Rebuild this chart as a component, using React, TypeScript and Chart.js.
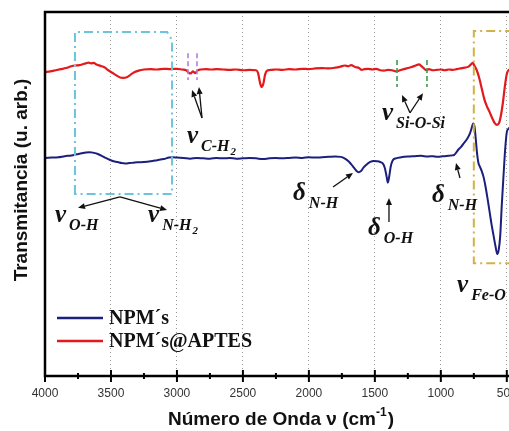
import React, { useEffect, useRef } from "react";
import { Chart, registerables } from "chart.js";

Chart.register(...registerables);

// ---------- DATA ----------
const seriesLabels = ["NPM´s", "NPM´s@APTES"];
const seriesColors = ["#1c1f7c", "#e3191c"];

// NPM´s (blue) — wavenumber (cm-1) and transmittance (arb.)
const npmWn = [
  4000, 3950, 3900, 3850, 3800, 3760, 3720, 3690, 3660, 3630, 3600, 3570, 3540, 3510, 3480, 3450,
  3420, 3390, 3360, 3330, 3300, 3250, 3200, 3150, 3100, 3060, 3030, 3000, 2950, 2900, 2850, 2800,
  2750, 2700, 2650, 2600, 2550, 2500, 2450, 2400, 2350, 2300, 2250, 2200, 2150, 2100, 2050, 2000,
  1950, 1900, 1850, 1800, 1760, 1730, 1700, 1680, 1660, 1640, 1625, 1605, 1585, 1560, 1535, 1510,
  1485, 1460, 1440, 1425, 1412, 1402, 1392, 1380, 1365, 1340, 1300, 1250, 1200, 1150, 1100, 1060,
  1030, 1000, 970, 940, 920, 900, 885, 865, 845, 825, 800, 780, 765, 755, 745, 735, 725, 715, 705,
  690, 675, 660, 645, 630, 615, 600, 585, 572, 562, 550, 538, 525, 512, 500, 490, 470, 440, 400,
];
const npmT = [
  59.9, 60.0, 60.1, 60.4, 60.6, 60.9, 61.2, 61.4, 61.5, 61.3, 61.0, 60.5, 59.9, 59.4, 59.0, 58.8,
  58.5, 58.4, 58.5, 58.6, 58.7, 58.8, 59.0, 59.3, 59.6, 60.0, 60.1, 60.0, 59.9, 59.7, 59.9, 59.8,
  59.7, 59.9, 59.8, 59.9, 59.7, 59.8, 59.9, 59.8, 59.6, 59.8, 59.9, 59.8, 59.9, 60.0, 59.9, 60.1,
  60.0, 60.1, 60.2, 60.3, 60.2, 59.8, 59.0, 58.2, 57.3, 56.4, 56.0, 56.3, 57.3, 58.2, 58.8, 59.1,
  59.0, 58.8, 58.4, 57.2, 55.0, 53.1, 54.6, 57.5, 59.2, 59.8, 60.1, 60.3, 60.4, 60.5, 60.3, 60.4,
  60.2, 60.3, 60.4, 60.5, 60.6, 60.7, 61.3, 62.3, 63.0, 64.0, 65.2, 66.6, 68.3, 69.4, 68.6, 65.0,
  61.0, 58.5, 57.6, 56.3, 54.5, 51.8, 48.5, 45.0, 41.5, 38.5, 35.5, 33.5, 34.5, 38.5, 47.0, 55.0,
  62.5, 67.0, 67.8, 68.5, 69.0, 69.2,
];

// NPM´s@APTES (red)
const aptesWn = [
  4000, 3960, 3920, 3880, 3840, 3800, 3770, 3740, 3710, 3690, 3670, 3650, 3630, 3610, 3580, 3550,
  3520, 3490, 3460, 3430, 3410, 3380, 3350, 3320, 3290, 3250, 3200, 3150, 3100, 3050, 3000, 2960,
  2930, 2910, 2895, 2880, 2860, 2845, 2820, 2780, 2740, 2700, 2650, 2600, 2550, 2500, 2450, 2400,
  2385, 2370, 2358, 2345, 2332, 2315, 2280, 2250, 2200, 2150, 2100, 2050, 2000, 1950, 1900, 1850,
  1800, 1760, 1730, 1700, 1680, 1650, 1620, 1600, 1580, 1550, 1520, 1490, 1460, 1430, 1400, 1370,
  1340, 1310, 1280, 1250, 1220, 1190, 1165, 1150, 1130, 1110, 1090, 1060, 1030, 1000, 970, 940, 910,
  880, 850, 820, 790, 770, 758, 745, 730, 710, 690, 670, 650, 630, 610, 590, 575, 560, 545, 530, 515,
  500, 485, 460, 430, 400,
];
const aptesT = [
  83.5, 83.7, 84.0, 84.3, 84.6, 85.1, 85.3, 85.4, 85.7, 85.9, 86.1, 85.9, 86.0, 85.6, 85.2, 84.8,
  84.0, 83.3, 82.6, 82.0, 81.9, 82.1, 82.8, 83.5, 83.9, 84.2, 84.3, 84.2, 84.4, 84.3, 84.4, 84.2,
  84.0, 83.3, 83.1, 83.7, 83.2, 83.9, 84.2, 84.3, 84.2, 84.3, 84.2, 84.1, 84.2, 84.0, 84.1, 84.0,
  83.2, 80.5, 79.4, 80.3, 82.8, 83.9, 84.1, 84.2, 84.1, 84.3, 84.2, 84.4, 84.3, 84.5, 84.6, 84.5,
  84.7, 85.0, 85.3, 85.1, 85.4, 84.9, 84.6, 84.1, 84.3, 84.4, 84.2, 84.4, 84.0, 83.9, 84.1, 84.0,
  83.7, 84.0, 84.3, 84.6, 84.9, 85.3, 85.6, 85.2, 84.6, 84.0, 84.3, 84.0, 84.1, 84.2, 84.0, 84.2, 84.1,
  84.3, 84.5, 84.7, 85.0, 85.7, 86.0, 85.2, 84.2, 82.0, 79.0, 76.0, 74.0, 72.5, 70.8, 69.4, 69.0,
  69.4, 71.5, 75.0, 79.5, 83.0, 84.1, 84.3, 84.2, 84.3,
];

const xTickValues = [4000, 3500, 3000, 2500, 2000, 1500, 1000, 500];
const xMin = 400;
const xMax = 4000;
const xMinorStep = 250;
const yMin = 0;
const yMax = 100;

// ---------- ANNOTATIONS (data coordinates) ----------
// dash-dot boxes: [wnLeft, wnRight, vTop, vBottom, color]
const boxes: [number, number, number, number, string][] = [
  [3773, 3037, 94.5, 50.0, "#6cc3dc"],
  [750, 300, 94.8, 31.0, "#d2b243"],
];
// dashed marker lines: [wn, vTop, vBottom, color]
const markers: [number, number, number, string][] = [
  [2916, 88.7, 81.3, "#b57ddb"],
  [2848, 88.7, 81.3, "#b57ddb"],
  [1332, 86.8, 79.4, "#3f9c4c"],
  [1105, 86.8, 79.4, "#3f9c4c"],
];
// arrows: [wnFrom, vFrom, wnTo, vTo]
const arrows: [number, number, number, number][] = [
  [2810, 70.9, 2886, 78.6],
  [2810, 70.9, 2833, 79.4],
  [1234, 72.3, 1294, 77.2],
  [1234, 72.3, 1135, 77.7],
  [3432, 49.2, 3750, 46.2],
  [3432, 49.2, 3075, 45.6],
  [1817, 51.9, 1666, 55.8],
  [1393, 42.3, 1393, 48.9],
  [855, 54.4, 885, 58.5],
];
// labels: [wn, v, greek, subscript, trailing small subscript]
const labels: [number, number, string, string, string][] = [
  [2924, 64.0, "ν", "C-H", "2"],
  [1446, 70.3, "ν", "Si-O-Si", ""],
  [2120, 48.4, "δ", "N-H", ""],
  [1552, 38.7, "δ", "O-H", ""],
  [1067, 47.8, "δ", "N-H", ""],
  [3924, 42.3, "ν", "O-H", ""],
  [3219, 42.3, "ν", "N-H", "2"],
  [877, 23.1, "ν", "Fe-O", ""],
];

const xTitle = "Número de Onda ν (cm";
const xTitleSup = "-1";
const yTitle = "Transmitancia (u. arb.)";

const overlayPlugin = {
  id: "overlay",
  afterDatasetsDraw(chart: any) {
    const { ctx, scales } = chart;
    const X = (v: number) => scales.x.getPixelForValue(v);
    const Y = (v: number) => scales.y.getPixelForValue(v);
    ctx.save();

    // boxes
    boxes.forEach(([w1, w2, t, b, col], i) => {
      const x1 = X(w1), x2 = X(w2), y1 = Y(t), y2 = Y(b);
      ctx.strokeStyle = col;
      ctx.lineWidth = 2;
      ctx.setLineDash([9, 4, 2, 4]);
      ctx.beginPath();
      if (i === 0) {
        ctx.moveTo(x1, y2);
        ctx.lineTo(x1, y1);
        ctx.lineTo(x2 - 5, y1);
        ctx.lineTo(x2, y1 + 8);
        ctx.lineTo(x2, y2);
        ctx.closePath();
      } else {
        ctx.moveTo(x2, y1);
        ctx.lineTo(x1, y1);
        ctx.lineTo(x1, y2);
        ctx.lineTo(x2, y2);
      }
      ctx.stroke();
    });

    // markers
    markers.forEach(([w, t, b, col]) => {
      ctx.strokeStyle = col;
      ctx.lineWidth = 1.6;
      ctx.setLineDash([5, 3]);
      ctx.beginPath();
      ctx.moveTo(X(w), Y(t));
      ctx.lineTo(X(w), Y(b));
      ctx.stroke();
    });

    // arrows
    ctx.setLineDash([]);
    ctx.strokeStyle = "#111";
    ctx.fillStyle = "#111";
    arrows.forEach(([w1, v1, w2, v2]) => {
      const x1 = X(w1), y1 = Y(v1), x2 = X(w2), y2 = Y(v2);
      const ang = Math.atan2(y2 - y1, x2 - x1);
      const hl = 7, hw = 3;
      const bx = x2 - hl * Math.cos(ang), by = y2 - hl * Math.sin(ang);
      ctx.lineWidth = 1.3;
      ctx.beginPath();
      ctx.moveTo(x1, y1);
      ctx.lineTo(bx, by);
      ctx.stroke();
      ctx.beginPath();
      ctx.moveTo(x2, y2);
      ctx.lineTo(bx + hw * Math.sin(ang), by - hw * Math.cos(ang));
      ctx.lineTo(bx - hw * Math.sin(ang), by + hw * Math.cos(ang));
      ctx.closePath();
      ctx.fill();
    });

    // labels
    ctx.textBaseline = "alphabetic";
    ctx.textAlign = "left";
    labels.forEach(([w, v, g, s, s2]) => {
      const x = X(w), y = Y(v);
      ctx.font = 'italic bold 25px "Liberation Serif"';
      ctx.fillText(g, x, y);
      const gw = ctx.measureText(g).width;
      ctx.font = 'italic bold 16px "Liberation Serif"';
      const sx = x + gw + 3, sy = y + 8;
      ctx.fillText(s, sx, sy);
      if (s2) {
        const sw = ctx.measureText(s).width;
        ctx.font = 'italic bold 11px "Liberation Serif"';
        ctx.fillText(s2, sx + sw + 1, sy + 4);
      }
    });

    ctx.restore();
  },
  afterDraw(chart: any) {
    const { ctx, chartArea: a, scales } = chart;
    const X = (v: number) => scales.x.getPixelForValue(v);
    ctx.save();
    ctx.setLineDash([]);
    // frame
    ctx.strokeStyle = "#000";
    ctx.lineWidth = 2.5;
    ctx.strokeRect(a.left, a.top, a.right - a.left, a.bottom - a.top);
    // ticks (major + minor)
    ctx.lineWidth = 2;
    for (let v = xMax; v >= xMin; v -= xMinorStep) {
      const major = xTickValues.includes(v);
      const px = X(v);
      const h = major ? 6 : 3;
      ctx.beginPath();
      ctx.moveTo(px, a.bottom - h);
      ctx.lineTo(px, a.bottom + h);
      ctx.stroke();
    }
    // legend
    chart.data.datasets.forEach((ds: any, i: number) => {
      const ly = 318 + i * 23;
      ctx.strokeStyle = ds.borderColor;
      ctx.lineWidth = 2.5;
      ctx.beginPath();
      ctx.moveTo(57, ly);
      ctx.lineTo(103, ly);
      ctx.stroke();
      ctx.fillStyle = "#111";
      ctx.font = 'bold 20px "Liberation Serif"';
      ctx.textBaseline = "middle";
      ctx.textAlign = "left";
      ctx.fillText(ds.label, 109, ly + 1);
    });
    // x title
    ctx.fillStyle = "#111";
    ctx.textBaseline = "middle";
    ctx.font = 'bold 19px "Liberation Sans"';
    const w1 = ctx.measureText(xTitle).width;
    const w3 = ctx.measureText(")").width;
    ctx.font = 'bold 12px "Liberation Sans"';
    const w2 = ctx.measureText(xTitleSup).width;
    const total = w1 + w2 + w3 + 1;
    let tx = 281 - total / 2;
    ctx.font = 'bold 19px "Liberation Sans"';
    ctx.fillText(xTitle, tx, 420);
    tx += w1;
    ctx.font = 'bold 12px "Liberation Sans"';
    ctx.fillText(xTitleSup, tx, 413);
    tx += w2 + 1;
    ctx.font = 'bold 19px "Liberation Sans"';
    ctx.fillText(")", tx, 420);
    // y title
    ctx.translate(22, 180);
    ctx.rotate(-Math.PI / 2);
    ctx.textAlign = "center";
    ctx.font = 'bold 19px "Liberation Sans"';
    ctx.fillText(yTitle, 0, 0);
    ctx.restore();
  },
};

export default function App() {
  const ref = useRef<HTMLCanvasElement | null>(null);
  useEffect(() => {
    if (!ref.current) return;
    const chart = new Chart(ref.current, {
      type: "line",
      data: {
        datasets: [
          {
            label: seriesLabels[0],
            data: npmWn.map((w, i) => ({ x: w, y: npmT[i] })),
            borderColor: seriesColors[0],
            borderWidth: 2,
            pointRadius: 0,
            cubicInterpolationMode: "monotone",
          },
          {
            label: seriesLabels[1],
            data: aptesWn.map((w, i) => ({ x: w, y: aptesT[i] })),
            borderColor: seriesColors[1],
            borderWidth: 2.2,
            pointRadius: 0,
            cubicInterpolationMode: "monotone",
          },
        ],
      },
      options: {
        responsive: false,
        animation: false,
        devicePixelRatio: 1,
        layout: { padding: { left: 45, right: 10, top: 12, bottom: 20.6 } },
        plugins: { legend: { display: false }, tooltip: { enabled: false } },
        scales: {
          x: {
            type: "linear",
            reverse: true,
            min: xMin,
            max: xMax,
            afterBuildTicks: (scale: any) => {
              scale.ticks = xTickValues.map((v) => ({ value: v }));
            },
            ticks: {
              autoSkip: false,
              maxRotation: 0,
              padding: 10,
              color: "#333",
              font: { family: "Liberation Sans", size: 12 },
              callback: (v: any) => String(v),
            },
            grid: { drawTicks: false, color: "#9a9a9a", lineWidth: 1 },
            border: { display: false, dash: [1, 3] },
          },
          y: { display: false, min: yMin, max: yMax },
        },
      },
      plugins: [overlayPlugin],
    });
    return () => chart.destroy();
  }, []);
  return (
    <div
      style={{
        position: "fixed",
        left: 0,
        top: 0,
        width: 509,
        height: 431,
        overflow: "hidden",
        background: "#fff",
      }}
    >
      <canvas ref={ref} width={530} height={431} style={{ display: "block" }} />
    </div>
  );
}
